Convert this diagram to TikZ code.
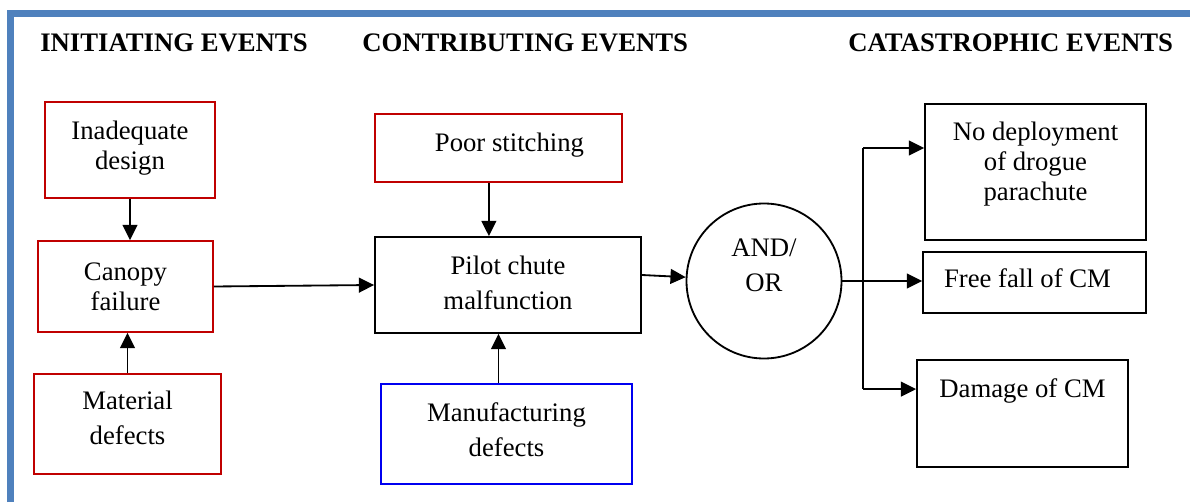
\documentclass[tikz,border=0pt]{standalone}
\usepackage{fontspec}
\setmainfont{Liberation Serif}
\usepackage{xcolor}
\usepackage{tikz}
\usetikzlibrary{shapes, positioning, arrows.meta}
\definecolor{frameblue}{HTML}{4F81BD}
\definecolor{boxred}{HTML}{C00000}
\definecolor{boxblue}{HTML}{0000F0}
\tikzset{
	evbox/.style={draw, line width=1.3pt, align=center, inner sep=2pt, font=\fontsize{19}{21.5}\selectfont},
	redbox/.style={evbox, draw=boxred},
	bluebox/.style={evbox, draw=boxblue},
	title/.style={anchor=base west, inner sep=0pt, font=\fontsize{19}{21.5}\selectfont\bfseries},
	arr/.style={line width=1.3pt, -{Triangle[length=0.38cm, width=0.37cm]}}
}

\begin{document}
\begin{tikzpicture}
			\useasboundingbox (0,0) rectangle (29.75,12.55);
			\draw[frameblue, line width=0.16cm] (0.2625,0) -- (0.2625,12.2125) -- (29.75,12.2125);
			
			\node[title] (initT) at (1.0,11.25) {INITIATING EVENTS};
			\node[title] (contT) at (9.05,11.25) {CONTRIBUTING EVENTS};
			\node[title] (catT) at (21.2,11.25) {CATASTROPHIC EVENTS};
			
			\node[redbox, minimum width=4.25cm, minimum height=2.4cm, text depth=0.25cm] (incdesign) at (3.25,8.8) {Inadequate\\design};
			\node[redbox, minimum width=4.375cm, minimum height=2.275cm] (canopy) at (3.1375,5.3875) {Canopy\\failure};
			\node[redbox, minimum width=4.675cm, minimum height=2.5cm, text depth=0.3cm] (material) at (3.1875,1.95) {Material\\[0.125cm]defects};
			
			\node[redbox, minimum width=6.175cm, minimum height=1.7cm, text depth=0.3cm] (stitching) at (12.4625,8.85) {\hspace*{0.55cm}Poor stitching};
			\node[evbox, minimum width=6.65cm, minimum height=2.4cm, text depth=0.12cm] (pilot) at (12.7,5.425) {Pilot chute\\[0.125cm]malfunction};
			\node[bluebox, minimum width=6.275cm, minimum height=2.5cm, text depth=0.22cm] (manuf) at (12.6625,1.7) {Manufacturing\\[0.125cm]defects};
			
			\node[evbox, circle, minimum size=3.875cm, text depth=0.78cm] (gate) at (19.1,5.525) {AND/\\[0.125cm]OR};
			
			\node[evbox, minimum width=5.525cm, minimum height=3.4cm, text depth=0.55cm] (nodeploy) at (25.8875,8.25) {No deployment\\of drogue\\parachute};
			\node[evbox, minimum width=5.575cm, minimum height=1.525cm, text depth=0.2cm] (freefall) at (25.8625,5.4875) {Free fall of CM\hspace*{0.35cm}};
			\node[evbox, minimum width=5.275cm, minimum height=2.675cm, text depth=1.25cm] (damage) at (25.5625,2.2125) {Damage of CM};
			
			\coordinate (split) at (21.575,5.525);
			\coordinate (ndin) at ([yshift=0.6cm]nodeploy.west);
			\coordinate (dmin) at ([yshift=0.61cm]damage.west);
			
			\draw[arr] (incdesign.south) -- (incdesign.south |- canopy.north);
			\draw[arr] (material.north) -- (material.north |- canopy.south);
			\draw[arr] (canopy.east) -- (pilot.west);
			\draw[arr] ([xshift=-0.24cm]stitching.south) -- ([xshift=-0.24cm]stitching.south |- pilot.north);
			\draw[arr] ([xshift=-0.2cm]manuf.north) -- ([xshift=-0.2cm]manuf.north |- pilot.south);
			\draw[arr] ([yshift=0.25cm]pilot.east) -- (gate);
			\draw[arr] (gate.east) -- (gate.east -| freefall.west);
			\draw[line width=1.3pt] (split |- ndin) -- (split |- dmin);
			\draw[arr] (split |- ndin) -- (ndin);
			\draw[arr] (split |- dmin) -- (dmin);
		\end{tikzpicture}
\end{document}
